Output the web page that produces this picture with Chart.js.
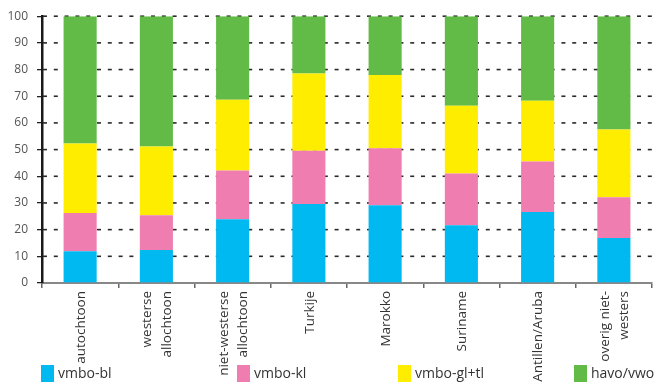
<!DOCTYPE html>
<html>
<head>
<meta charset="utf-8">
<script src="https://cdn.jsdelivr.net/npm/chart.js@4/dist/chart.umd.min.js"></script>
<style>
  body { margin: 0; background: #fff; }
  #wrap { position: relative; width: 654px; height: 382px; overflow: hidden; }
  #chart { position: absolute; left: 0; top: 0; }
  .item { position: absolute; top: 365px; height: 17px; font: 14px 'Open Sans', sans-serif; color: #333; white-space: nowrap; }
  .item .box { position: absolute; left: 0; top: 0; width: 13px; height: 17px; }
  .item .txt { position: absolute; left: 17px; top: -2px; line-height: 20px; }
</style>
</head>
<body>
<div id="wrap">
  <canvas id="chart" width="654" height="382"></canvas>
  <div id="legend"></div>
</div>
<script>
// categories (multi-line labels as arrays)
const categories = [
  ['autochtoon'],
  ['westerse', 'allochtoon'],
  ['niet-westerse', 'allochtoon'],
  ['Turkije'],
  ['Marokko'],
  ['Suriname'],
  ['Antillen/Aruba'],
  ['overig niet-', 'westers']
];

// series values (percent)
const vmboBl   = [11.9, 12.4, 23.9, 29.6, 29.1, 21.6, 26.6, 16.9];
const vmboKl   = [14.3, 13.0, 18.3, 20.0, 21.4, 19.4, 18.9, 15.2];
const vmboGlTl = [26.1, 25.8, 26.5, 28.9, 27.5, 25.4, 22.8, 25.4];
const havoVwo  = [47.7, 48.8, 31.3, 21.5, 22.0, 33.6, 31.7, 42.5];

const seriesNames = ['vmbo-bl', 'vmbo-kl', 'vmbo-gl+tl', 'havo/vwo'];
const seriesColors = ['#00b9f1', '#f07db0', '#ffed00', '#62bb46'];

// y axis ticks
const yMin = 0, yMax = 100, yStep = 10;

// legend item left positions
const legendLeft = [41, 237, 398, 574];

const font = "'Open Sans', sans-serif";

// dashed horizontal grid lines behind the bars, one per y tick
// (dashes drawn as small rects)
const dashedGrid = {
  id: 'dashedGrid',
  beforeDatasetsDraw(chart) {
    let ctx = chart.ctx;
    let ys = chart.scales.y;
    let area = chart.chartArea;
    ctx.save();
    ctx.fillStyle = '#2a2a2a';
    ys.ticks.forEach(t => {
      if (t.value === yMin) return;
      let y = ys.getPixelForValue(t.value);
      for (let x = area.left + 1; x < area.right; x += 10.8) {
        ctx.fillRect(x, y - 0.8, Math.min(4, area.right - x), 1.6);
      }
    });
    ctx.restore();
  }
};

// rotated category labels, lines centred on the tick
const xLabels = {
  id: 'xLabels',
  afterDraw(chart) {
    let ctx = chart.ctx;
    let xs = chart.scales.x;
    let lh = 19.5;
    ctx.save();
    ctx.font = '13.5px ' + font;
    ctx.fillStyle = '#333';
    ctx.textAlign = 'right';
    ctx.textBaseline = 'middle';
    categories.forEach((lines, i) => {
      let x = xs.getPixelForValue(i) + 1;
      ctx.save();
      ctx.translate(x, xs.top + 8);
      ctx.rotate(-Math.PI / 2);
      lines.forEach((line, j) => {
        ctx.fillText(line, 0, (j - (lines.length - 1) / 2) * lh);
      });
      ctx.restore();
    });
    ctx.restore();
  }
};

let values = [vmboBl, vmboKl, vmboGlTl, havoVwo];

new Chart(document.getElementById('chart'), {
  type: 'bar',
  data: {
    labels: categories.map(c => c.join(' ')),
    datasets: values.map((v, i) => ({
      label: seriesNames[i],
      data: v,
      backgroundColor: seriesColors[i],
      borderWidth: 0,
      categoryPercentage: 1,
      barPercentage: 0.434
    }))
  },
  options: {
    responsive: false,
    animation: false,
    layout: { padding: { top: 15, right: 2, left: 0, bottom: 0 } },
    plugins: {
      legend: { display: false },
      tooltip: { enabled: false }
    },
    scales: {
      x: {
        stacked: true,
        afterFit: s => { s.height = 99; },
        ticks: { display: false },
        grid: { display: true, drawOnChartArea: false, offset: true, tickLength: 5, color: '#666', lineWidth: 1.5 },
        border: { display: true, color: '#888', width: 2 }
      },
      y: {
        stacked: true,
        min: yMin,
        max: yMax,
        afterFit: s => { s.width = 42; },
        ticks: { stepSize: yStep, padding: 9, color: '#555', font: { family: font, size: 12 } },
        grid: { drawOnChartArea: false, color: '#222', tickLength: 5, lineWidth: 1.3 },
        border: { display: true, color: '#1a1a1a', width: 2.5 }
      }
    }
  },
  plugins: [dashedGrid, xLabels]
});

// legend below the chart
let legend = document.getElementById('legend');
seriesNames.forEach((name, i) => {
  legend.innerHTML += `
    <div class="item" style="left:${legendLeft[i]}px">
      <span class="box" style="background:${seriesColors[i]}"></span>
      <span class="txt">${name}</span>
    </div>`;
});
</script>
</body>
</html>
